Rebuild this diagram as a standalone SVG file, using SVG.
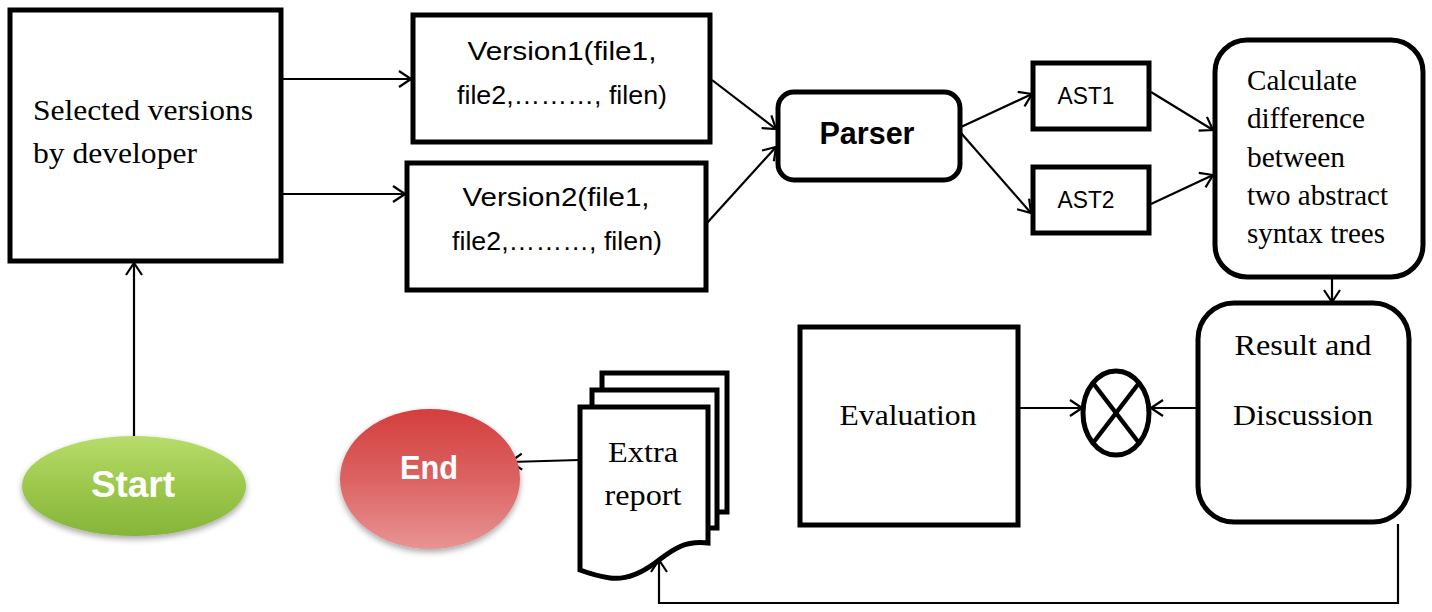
<svg xmlns="http://www.w3.org/2000/svg" width="1432" height="612" viewBox="0 0 1432 612">
  <style>
    .box { fill: #ffffff; stroke: #000000; stroke-width: 5; }
    .conn { fill: none; stroke: #000000; stroke-width: 2.2; }
    .serif { font-family: "Liberation Serif", "Times New Roman", serif; font-size: 29px; fill: #000000; }
    .sans { font-family: "Liberation Sans", Arial, sans-serif; font-size: 26px; fill: #000000; }
    .small { font-size: 23px; }
    .bold { font-family: "Liberation Sans", Arial, sans-serif; font-weight: bold; fill: #ffffff; }
  </style>
  <defs>
    <marker id="arrow" viewBox="0 0 14 18" refX="13" refY="9" markerWidth="14" markerHeight="18" markerUnits="userSpaceOnUse" orient="auto">
      <path d="M1,1 L13,9 L1,17" fill="none" stroke="#000000" stroke-width="2.2"/>
    </marker>
    <linearGradient id="greenFill" x1="0" y1="0" x2="0" y2="1">
      <stop offset="0" stop-color="#b8dc6c"/>
      <stop offset="0.5" stop-color="#9cc84c"/>
      <stop offset="1" stop-color="#86b53a"/>
    </linearGradient>
    <linearGradient id="redFill" x1="0" y1="0" x2="0" y2="1">
      <stop offset="0" stop-color="#d43e3e"/>
      <stop offset="0.5" stop-color="#dc6262"/>
      <stop offset="1" stop-color="#e89494"/>
    </linearGradient>
    <filter id="soft" x="-20%" y="-20%" width="140%" height="150%">
      <feGaussianBlur in="SourceAlpha" stdDeviation="3"/>
      <feOffset dy="3"/>
      <feComponentTransfer><feFuncA type="linear" slope="0.35"/></feComponentTransfer>
      <feMerge><feMergeNode/><feMergeNode in="SourceGraphic"/></feMerge>
    </filter>
  </defs>

  <!-- connectors -->
  <g id="connectors">
    <line class="conn" x1="283" y1="79" x2="411" y2="79" marker-end="url(#arrow)"/>
    <line class="conn" x1="283" y1="194" x2="405" y2="194" marker-end="url(#arrow)"/>
    <line class="conn" x1="712" y1="80" x2="776" y2="129" marker-end="url(#arrow)"/>
    <line class="conn" x1="707" y1="223" x2="776" y2="147" marker-end="url(#arrow)"/>
    <line class="conn" x1="961" y1="127" x2="1032" y2="94" marker-end="url(#arrow)"/>
    <line class="conn" x1="961" y1="133" x2="1031" y2="213" marker-end="url(#arrow)"/>
    <line class="conn" x1="1151" y1="92" x2="1213" y2="130" marker-end="url(#arrow)"/>
    <line class="conn" x1="1151" y1="204" x2="1213" y2="175" marker-end="url(#arrow)"/>
    <line class="conn" x1="1332" y1="279" x2="1332" y2="302" marker-end="url(#arrow)"/>
    <line class="conn" x1="1197" y1="408" x2="1151" y2="408" marker-end="url(#arrow)"/>
    <line class="conn" x1="1019" y1="408" x2="1082" y2="408" marker-end="url(#arrow)"/>
    <polyline class="conn" points="1398,524 1398,603 659,603 659,560" marker-end="url(#arrow)"/>
    <line class="conn" x1="579" y1="460" x2="510" y2="462" marker-end="url(#arrow)"/>
    <line class="conn" x1="134" y1="436" x2="134" y2="263" marker-end="url(#arrow)"/>
  </g>

  <!-- Start -->
  <g id="start">
    <ellipse cx="134" cy="486" rx="112" ry="50" fill="url(#greenFill)" filter="url(#soft)"/>
    <text class="bold" x="133" y="497" font-size="36" text-anchor="middle" textLength="84" lengthAdjust="spacingAndGlyphs">Start</text>
  </g>

  <!-- Selected versions -->
  <g id="selected">
    <rect class="box" x="10" y="10" width="271" height="251"/>
    <text class="serif" x="33" y="120" textLength="220" lengthAdjust="spacingAndGlyphs">Selected versions</text>
    <text class="serif" x="33" y="163" textLength="164" lengthAdjust="spacingAndGlyphs">by developer</text>
  </g>

  <!-- Version 1 -->
  <g id="version1">
    <rect class="box" x="413" y="15" width="297" height="127"/>
    <text class="sans" x="562" y="60" text-anchor="middle" textLength="189" lengthAdjust="spacingAndGlyphs">Version1(file1,</text>
    <text class="sans" x="562" y="104" text-anchor="middle" textLength="210" lengthAdjust="spacingAndGlyphs">file2,………, filen)</text>
  </g>

  <!-- Version 2 -->
  <g id="version2">
    <rect class="box" x="407" y="163" width="299" height="127"/>
    <text class="sans" x="556" y="206" text-anchor="middle" textLength="187" lengthAdjust="spacingAndGlyphs">Version2(file1,</text>
    <text class="sans" x="557" y="250" text-anchor="middle" textLength="210" lengthAdjust="spacingAndGlyphs">file2,………, filen)</text>
  </g>

  <!-- Parser -->
  <g id="parser">
    <rect class="box" x="778" y="92" width="182" height="88" rx="16"/>
    <text class="bold" x="867" y="144" font-size="31" text-anchor="middle" style="fill:#000000" textLength="95" lengthAdjust="spacingAndGlyphs">Parser</text>
  </g>

  <!-- AST1 -->
  <g id="ast1">
    <rect class="box" x="1033" y="63" width="116" height="66"/>
    <text class="sans small" x="1086" y="104" text-anchor="middle" textLength="57" lengthAdjust="spacingAndGlyphs">AST1</text>
  </g>

  <!-- AST2 -->
  <g id="ast2">
    <rect class="box" x="1033" y="167" width="116" height="66"/>
    <text class="sans small" x="1086" y="208" text-anchor="middle" textLength="57" lengthAdjust="spacingAndGlyphs">AST2</text>
  </g>

  <!-- Calculate difference -->
  <g id="calculate">
    <rect class="box" x="1215" y="40" width="208" height="237" rx="32"/>
    <text class="serif" x="1247" y="90" textLength="110" lengthAdjust="spacingAndGlyphs">Calculate</text>
    <text class="serif" x="1247" y="128" textLength="118" lengthAdjust="spacingAndGlyphs">difference</text>
    <text class="serif" x="1247" y="167" textLength="98" lengthAdjust="spacingAndGlyphs">between</text>
    <text class="serif" x="1247" y="205" textLength="141" lengthAdjust="spacingAndGlyphs">two abstract</text>
    <text class="serif" x="1247" y="243" textLength="138" lengthAdjust="spacingAndGlyphs">syntax trees</text>
  </g>

  <!-- Result and Discussion -->
  <g id="result">
    <rect class="box" x="1198" y="303" width="211" height="219" rx="36"/>
    <text class="serif" x="1303" y="355" text-anchor="middle" textLength="137" lengthAdjust="spacingAndGlyphs">Result and</text>
    <text class="serif" x="1303" y="425" text-anchor="middle" textLength="140" lengthAdjust="spacingAndGlyphs">Discussion</text>
  </g>

  <!-- Merge (X) -->
  <g id="merge">
    <ellipse cx="1116" cy="413" rx="33" ry="42" fill="#ffffff" stroke="#000000" stroke-width="5"/>
    <line x1="1093" y1="383" x2="1139" y2="443" stroke="#000000" stroke-width="4.5"/>
    <line x1="1139" y1="383" x2="1093" y2="443" stroke="#000000" stroke-width="4.5"/>
  </g>

  <!-- Evaluation -->
  <g id="evaluation">
    <rect class="box" x="800" y="327" width="218" height="198"/>
    <text class="serif" x="908" y="425" text-anchor="middle" textLength="137" lengthAdjust="spacingAndGlyphs">Evaluation</text>
  </g>

  <!-- Extra report (multi-document) -->
  <g id="extra-report">
    <rect class="box" x="602" y="373" width="125" height="139"/>
    <rect class="box" x="592" y="390" width="125" height="138"/>
    <path class="box" d="M580,407 H708 V543 C682,540 670,552 655,563 C640,574 625,580 610,578 C597,576 588,573 580,570 Z"/>
    <text class="serif" x="643" y="462" text-anchor="middle" textLength="70" lengthAdjust="spacingAndGlyphs">Extra</text>
    <text class="serif" x="643" y="505" text-anchor="middle" textLength="77" lengthAdjust="spacingAndGlyphs">report</text>
  </g>

  <!-- End -->
  <g id="end">
    <ellipse cx="430" cy="479" rx="90" ry="70" fill="url(#redFill)" filter="url(#soft)"/>
    <text class="bold" x="429" y="479" font-size="33" text-anchor="middle" textLength="58" lengthAdjust="spacingAndGlyphs">End</text>
  </g>
</svg>
